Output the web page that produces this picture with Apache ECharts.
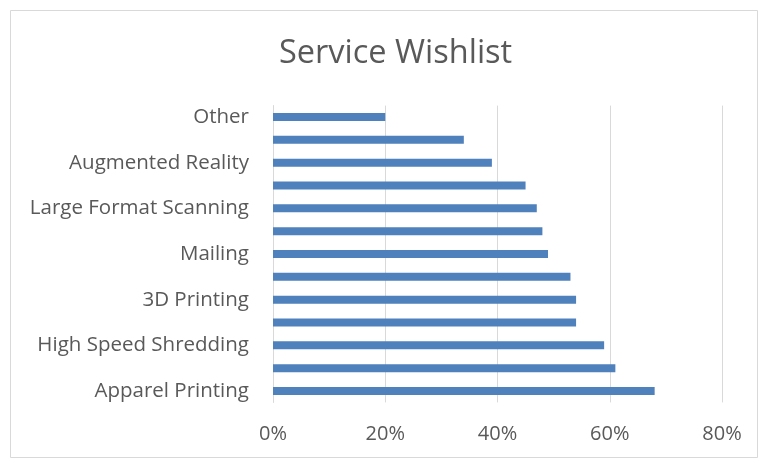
<!DOCTYPE html>
<html>
<head>
<meta charset="utf-8">
<script src="https://cdn.jsdelivr.net/npm/echarts@6/dist/echarts.min.js"></script>
<style>
html,body{margin:0;padding:0;background:#fff;}
#chart{width:762px;height:461px;}
</style>
</head>
<body>
<div id="chart"></div>
<script>
const titleText = 'Service Wishlist';
const categories = [
  'Apparel Printing', 'Photo Printing', 'High Speed Shredding', 'Laminating',
  '3D Printing', 'Binding', 'Mailing', 'Signage',
  'Large Format Scanning', 'Passport Photos', 'Augmented Reality', 'Notary Services', 'Other'
];
const values = [68, 61, 59, 54, 54, 53, 49, 48, 47, 45, 39, 34, 20];
const xTicks = [0, 20, 40, 60, 80];

const font = 'Open Sans, Noto Sans, sans-serif';
const chart = echarts.init(document.getElementById('chart'), null, {renderer: 'canvas'});
chart.setOption({
  animation: false,
  backgroundColor: '#ffffff',
  graphic: [{
    type: 'rect', left: 8, top: 8,
    shape: {width: 747, height: 447},
    style: {fill: 'none', stroke: '#d9d9d9', lineWidth: 1},
    silent: true
  }],
  title: {
    text: titleText, left: 274, top: 32,
    textStyle: {fontFamily: font, fontSize: 32.5, fontWeight: 'normal', color: '#595959'}
  },
  grid: {left: 273, right: 40, top: 105.6, bottom: 58.6, containLabel: false},
  xAxis: {
    type: 'value', min: xTicks[0], max: xTicks[xTicks.length - 1], interval: 20,
    axisLine: {show: false}, axisTick: {show: false},
    splitLine: {lineStyle: {color: '#d9d9d9', width: 1}},
    axisLabel: {formatter: v => v + '%', fontFamily: font, fontSize: 20, color: '#595959', margin: 22}
  },
  yAxis: {
    type: 'category', data: categories,
    axisLine: {show: true, lineStyle: {color: '#d9d9d9'}}, axisTick: {show: false},
    axisLabel: {interval: 1, fontFamily: font, fontSize: 20.5, color: '#595959', margin: 24}
  },
  series: [{
    type: 'bar', data: values, barWidth: 8,
    itemStyle: {color: '#4f81bd'}
  }]
});
</script>
</body>
</html>
